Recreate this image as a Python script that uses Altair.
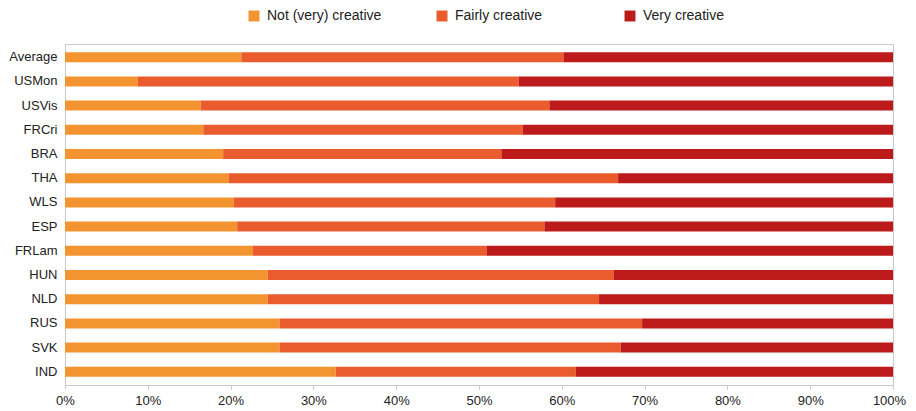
import altair as alt
import pandas as pd

countries = ["Average", "USMon", "USVis", "FRCri", "BRA", "THA", "WLS", "ESP",
             "FRLam", "HUN", "NLD", "RUS", "SVK", "IND"]
not_creative = [21.3, 8.8, 16.4, 16.7, 19.1, 19.8, 20.4, 20.8, 22.7, 24.5, 24.5, 25.9, 25.9, 32.7]
fairly_creative = [38.9, 46.0, 42.1, 38.6, 33.6, 47.0, 38.8, 37.1, 28.2, 41.8, 40.0, 43.8, 41.2, 29.0]
very_creative = [39.8, 45.2, 41.5, 44.7, 47.3, 33.2, 40.8, 42.1, 49.1, 33.7, 35.5, 30.3, 32.9, 38.3]

series = ["Not (very) creative", "Fairly creative", "Very creative"]
colors = ["#F39431", "#EA5C2E", "#BC1A1B"]

rows = []
for i, c in enumerate(countries):
    for j, (s, v) in enumerate(zip(series, [not_creative[i], fairly_creative[i], very_creative[i]])):
        rows.append({"country": c, "series": s, "value": v, "order": j})
df = pd.DataFrame(rows)

font = "Liberation Sans"

chart = alt.Chart(df).mark_bar().encode(
    y=alt.Y("country:N", sort=countries, title=None,
            scale=alt.Scale(paddingInner=0.587, paddingOuter=0.338),
            axis=alt.Axis(ticks=False, labelPadding=8, labelFontSize=13, labelFont=font,
                          labelColor="#222", domainColor="#c8c8c8")),
    x=alt.X("value:Q", stack="zero", title=None,
            scale=alt.Scale(domain=[0, 100], nice=False),
            axis=alt.Axis(values=[0, 10, 20, 30, 40, 50, 60, 70, 80, 90, 100],
                          labelExpr="datum.value + '%'", grid=False, tickSize=4,
                          tickColor="#c8c8c8", domainColor="#c8c8c8", labelPadding=5,
                          labelFontSize=13, labelFont=font, labelColor="#222",
                          labelFlush=False,
                          labelOffset={"condition": {"test": "datum.value == 100", "value": -4},
                                       "value": 0})),
    color=alt.Color("series:N", sort=series,
                    scale=alt.Scale(domain=series, range=colors),
                    legend=alt.Legend(title=None, orient="none", direction="horizontal",
                                      legendX=182, legendY=-35, columns=3, gridAlign="all",
                                      columnPadding=53, symbolType="square", symbolSize=120,
                                      symbolStrokeWidth=0, symbolOpacity=1,
                                      labelFontSize=14, labelFont=font, labelColor="#222",
                                      padding=0, labelOffset=6)),
    order=alt.Order("order:Q"),
).properties(
    width=828, height=341,
    autosize=alt.AutoSizeParams(type="none"),
    padding={"left": 57, "top": 36, "right": 15, "bottom": 22},
).configure_view(stroke="#c8c8c8", strokeWidth=1)

chart.save("out.html", embed_options={"renderer": "svg", "actions": False})
